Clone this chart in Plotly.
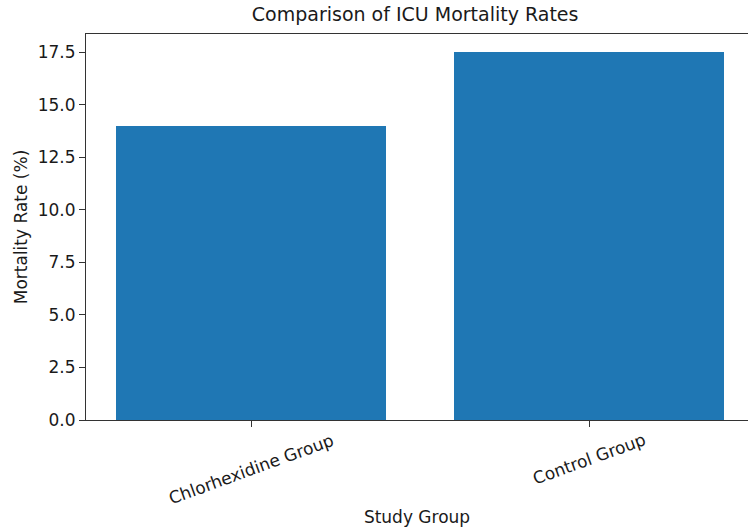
import plotly.graph_objects as go

groups = ["Chlorhexidine Group", "Control Group"]
mortality = [14.0, 17.5]

font = "DejaVu Sans"
txt = "#1a1a1a"

fig = go.Figure()
fig.add_trace(go.Bar(
    x=[0, 1], y=mortality, width=0.8,
    marker=dict(color="#1f77b4", line=dict(width=0)),
))

for i, g in enumerate(groups):
    fig.add_annotation(
        x=i, y=0, xref="x", yref="paper", text=g, showarrow=False,
        textangle=-20, xanchor="center", yanchor="top", yshift=-7,
        font=dict(family=font, size=17, color=txt),
    )

fig.update_layout(
    width=748, height=527,
    margin=dict(l=86, r=0, t=34, b=107, autoexpand=False),
    plot_bgcolor="white", paper_bgcolor="white",
    showlegend=False,
    bargap=0,
    title=dict(text="Comparison of ICU Mortality Rates", x=0.555, xanchor="center",
               y=0.972, yanchor="middle",
               font=dict(family=font, size=19, color=txt)),
    font=dict(family=font, size=17, color=txt),
)
fig.update_xaxes(
    range=[-0.49, 1.471], automargin=False,
    tickmode="array", tickvals=[0, 1], showticklabels=False,
    ticks="outside", ticklen=6, tickcolor="#333",
    showline=True, linecolor="#333", linewidth=1.2, mirror=True,
    showgrid=False, zeroline=False,
    title=dict(text="Study Group", font=dict(family=font, size=17, color=txt), standoff=84),
)
fig.update_yaxes(
    range=[0, 18.375], dtick=2.5, tick0=0, tickformat=".1f", automargin=False,
    ticks="outside", ticklen=6, tickcolor="#333",
    showline=True, linecolor="#333", linewidth=1.2, mirror=True,
    showgrid=False, zeroline=False,
    title=dict(text="Mortality Rate (%)", font=dict(family=font, size=17, color=txt), standoff=5),
)

fig.write_html("out.html", config={"displayModeBar": False},
               post_script="document.body.style.margin='0px';")
